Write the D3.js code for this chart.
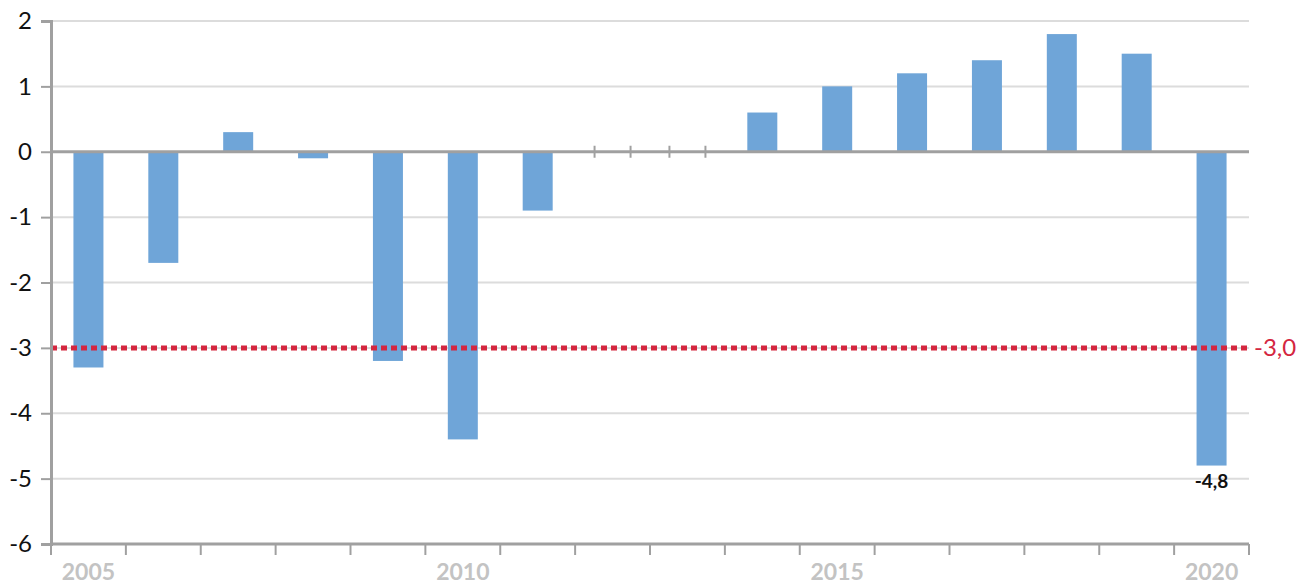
<!DOCTYPE html>
<html>
<head>
<meta charset="utf-8">
<script src="https://d3js.org/d3.v7.min.js"></script>
<style>
  body { margin: 0; background: #fff; }
  text { font-family: Lato, "Open Sans", sans-serif; }
</style>
</head>
<body>
<div id="chartContainer"></div>
<script type="text/javascript">
  // values
  var years = [2005, 2006, 2007, 2008, 2009, 2010, 2011, 2012, 2013, 2014, 2015, 2016, 2017, 2018, 2019, 2020];
  var balance = [-3.3, -1.7, 0.3, -0.1, -3.2, -4.4, -0.9, 0, 0, 0.6, 1.0, 1.2, 1.4, 1.8, 1.5, -4.8];
  var yTicks = [2, 1, 0, -1, -2, -3, -4, -5, -6];
  var yearLabels = [2005, 2010, 2015, 2020];
  var limit = -3.0;
  var labelled = [2020];

  var width = 1316, height = 585;
  var margin = {top: 21, right: 67, bottom: 41, left: 51};

  var svg = d3.select("#chartContainer").append("svg")
      .attr("width", width)
      .attr("height", height);

  var x = d3.scaleBand()
      .domain(years)
      .range([margin.left, width - margin.right]);

  var y = d3.scaleLinear()
      .domain([-6, 2])
      .range([height - margin.bottom, margin.top]);

  // plain hyphen and decimal comma, like the original
  var fmt = function (v) { return d3.format(".1f")(v).replace("\u2212", "-").replace(".", ","); };
  var fmtInt = function (v) { return d3.format("d")(v).replace("\u2212", "-"); };

  //gridlines
  svg.append("g")
    .selectAll("line")
    .data(yTicks.filter(function (d) { return d !== 0 && d !== -6; }))
    .enter().append("line")
      .attr("x1", margin.left)
      .attr("x2", width - margin.right)
      .attr("y1", function (d) { return y(d); })
      .attr("y2", function (d) { return y(d); })
      .attr("stroke", "#dcdcdc")
      .attr("stroke-width", 2);

  //bars
  var barW = 30;
  svg.append("g")
    .selectAll("rect")
    .data(years)
    .enter().append("rect")
      .attr("x", function (d) { return x(d) + x.bandwidth() / 2 - barW / 2; })
      .attr("y", function (d, i) { return y(Math.max(0, balance[i])); })
      .attr("width", barW)
      .attr("height", function (d, i) { return Math.abs(y(balance[i]) - y(0)); })
      .attr("fill", "#6fa5d8");

  //zero line
  svg.append("line")
    .attr("x1", margin.left)
    .attr("x2", width - margin.right)
    .attr("y1", y(0))
    .attr("y2", y(0))
    .attr("stroke", "#a0a0a0")
    .attr("stroke-width", 3);

  //small marks for zero-valued years
  var zeroYears = years.filter(function (d, i) { return balance[i] === 0; });
  zeroYears.forEach(function (d) {
    [-18, 18].forEach(function (off) {
      var cx = x(d) + x.bandwidth() / 2 + off;
      svg.append("line")
        .attr("x1", cx).attr("x2", cx)
        .attr("y1", y(0) - 6).attr("y2", y(0) + 6)
        .attr("stroke", "#a0a0a0")
        .attr("stroke-width", 2);
    });
  });

  //limit line
  svg.append("line")
    .attr("x1", margin.left)
    .attr("x2", width - margin.right + 2)
    .attr("y1", y(limit))
    .attr("y2", y(limit))
    .attr("stroke", "#d4263f")
    .attr("stroke-width", 5)
    .attr("stroke-dasharray", "6,4");

  svg.append("text")
    .attr("x", width - margin.right + 5)
    .attr("y", y(limit) + 8)
    .attr("fill", "#d4263f")
    .style("font-size", "24px")
    .text(fmt(limit));

  //y axis
  var yAxis = d3.axisLeft(y).tickValues(yTicks).tickSize(10).tickFormat(fmtInt);
  var gy = svg.append("g")
    .attr("transform", "translate(" + margin.left + ",0)")
    .call(yAxis);
  gy.select(".domain").attr("stroke", "#a0a0a0").attr("stroke-width", 3);
  gy.selectAll(".tick line").attr("stroke", "#a0a0a0").attr("stroke-width", 2);
  gy.selectAll(".tick text")
    .attr("x", -19)
    .attr("fill", "#111")
    .style("font-size", "24px")
    .style("font-family", "Lato, sans-serif");

  //x axis
  var gx = svg.append("g")
    .attr("transform", "translate(0," + y(-6) + ")");
  gx.append("line")
    .attr("x1", margin.left)
    .attr("x2", width - margin.right)
    .attr("stroke", "#a0a0a0")
    .attr("stroke-width", 3);
  var edges = years.map(function (d) { return x(d); }).concat([x(years[years.length - 1]) + x.bandwidth()]);
  gx.selectAll(".xt")
    .data(edges)
    .enter().append("line")
      .attr("x1", function (d) { return d; })
      .attr("x2", function (d) { return d; })
      .attr("y1", 0)
      .attr("y2", 11)
      .attr("stroke", "#a0a0a0")
      .attr("stroke-width", 2);
  gx.selectAll(".xl")
    .data(yearLabels)
    .enter().append("text")
      .attr("x", function (d) { return x(d) + x.bandwidth() / 2; })
      .attr("y", 36)
      .attr("text-anchor", "middle")
      .attr("fill", "#c3c3c3")
      .style("font-size", "23px")
      .style("font-weight", "bold")
      .text(function (d) { return d; });

  //value labels
  svg.selectAll(".vl")
    .data(labelled)
    .enter().append("text")
      .attr("x", function (d) { return x(d) + x.bandwidth() / 2; })
      .attr("y", function (d) { return y(balance[years.indexOf(d)]) + 22; })
      .attr("text-anchor", "middle")
      .attr("fill", "#111")
      .style("font-size", "19px")
      .style("font-weight", "bold")
      .text(function (d) { return fmt(balance[years.indexOf(d)]); });
</script>
</body>
</html>
